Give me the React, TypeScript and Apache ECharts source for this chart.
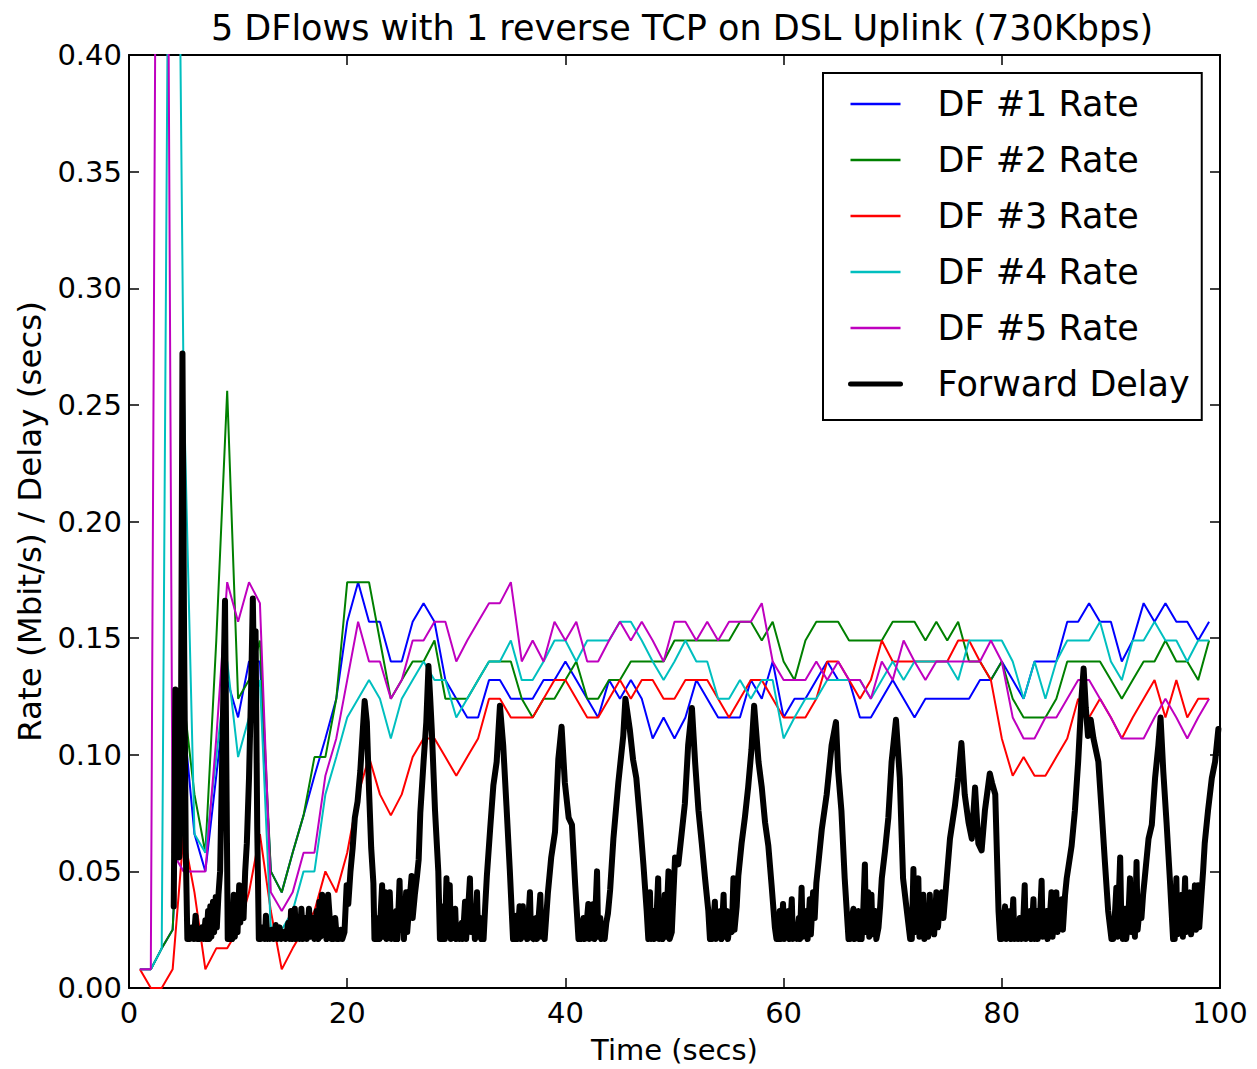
import React, { useEffect, useRef } from "react";
import * as echarts from "echarts";

const FONT = "DejaVu Sans";

const titleText = "5 DFlows with 1 reverse TCP on DSL Uplink (730Kbps)";
const xLabel = "Time (secs)";
const yLabel = "Rate (Mbit/s) / Delay (secs)";
const seriesNames = ["DF #1 Rate", "DF #2 Rate", "DF #3 Rate", "DF #4 Rate", "DF #5 Rate", "Forward Delay"];
const seriesColors = ["#0000ff", "#008000", "#ff0000", "#00bfbf", "#bf00bf", "#000000"];

// sample times for the rate series (one sample per second)
const seconds = Array.from({ length: 99 }, (_, i) => i + 1);

const df1 = [
  0.008, 0.008, 0.017, 0.025, 0.116, 0.066, 0.050, 0.091, 0.132, 0.116,
  0.140, 0.140, 0.050, 0.041, 0.058, 0.074, 0.091, 0.107, 0.124, 0.157,
  0.174, 0.157, 0.157, 0.140, 0.140, 0.157, 0.165, 0.157, 0.132, 0.124,
  0.116, 0.116, 0.132, 0.132, 0.124, 0.124, 0.124, 0.132, 0.132, 0.140,
  0.132, 0.124, 0.116, 0.132, 0.124, 0.132, 0.124, 0.107, 0.116, 0.107,
  0.116, 0.132, 0.124, 0.116, 0.116, 0.116, 0.132, 0.124, 0.140, 0.116,
  0.124, 0.124, 0.132, 0.140, 0.132, 0.132, 0.116, 0.116, 0.124, 0.132,
  0.124, 0.116, 0.124, 0.124, 0.124, 0.124, 0.124, 0.132, 0.132, 0.140,
  0.132, 0.124, 0.140, 0.140, 0.140, 0.157, 0.157, 0.165, 0.157, 0.157,
  0.140, 0.149, 0.165, 0.157, 0.165, 0.157, 0.157, 0.149, 0.157,
];

const df2 = [
  0.008, 0.008, 0.017, 0.025, 0.124, 0.083, 0.058, 0.149, 0.256, 0.124,
  0.132, 0.149, 0.050, 0.041, 0.058, 0.074, 0.099, 0.099, 0.124, 0.174,
  0.174, 0.174, 0.149, 0.124, 0.132, 0.140, 0.140, 0.149, 0.124, 0.124,
  0.124, 0.132, 0.140, 0.140, 0.140, 0.124, 0.116, 0.124, 0.124, 0.132,
  0.140, 0.124, 0.124, 0.132, 0.132, 0.140, 0.140, 0.140, 0.140, 0.149,
  0.149, 0.149, 0.149, 0.149, 0.149, 0.157, 0.157, 0.149, 0.157, 0.140,
  0.132, 0.149, 0.157, 0.157, 0.157, 0.149, 0.149, 0.149, 0.149, 0.157,
  0.157, 0.157, 0.149, 0.157, 0.149, 0.157, 0.140, 0.140, 0.132, 0.140,
  0.124, 0.116, 0.116, 0.116, 0.124, 0.140, 0.140, 0.140, 0.140, 0.132,
  0.124, 0.132, 0.140, 0.140, 0.149, 0.140, 0.140, 0.132, 0.149,
];

const df3 = [
  0.008, 0.000, 0.000, 0.008, 0.066, 0.041, 0.008, 0.017, 0.017, 0.025,
  0.041, 0.066, 0.033, 0.008, 0.017, 0.025, 0.033, 0.050, 0.041, 0.058,
  0.083, 0.099, 0.083, 0.074, 0.083, 0.099, 0.107, 0.107, 0.099, 0.091,
  0.099, 0.107, 0.124, 0.124, 0.116, 0.116, 0.116, 0.124, 0.132, 0.132,
  0.124, 0.116, 0.116, 0.124, 0.132, 0.124, 0.132, 0.132, 0.124, 0.124,
  0.132, 0.132, 0.132, 0.124, 0.116, 0.124, 0.132, 0.132, 0.124, 0.116,
  0.116, 0.116, 0.124, 0.140, 0.140, 0.132, 0.124, 0.132, 0.149, 0.140,
  0.140, 0.140, 0.140, 0.140, 0.140, 0.149, 0.149, 0.140, 0.132, 0.107,
  0.091, 0.099, 0.091, 0.091, 0.099, 0.107, 0.124, 0.116, 0.124, 0.116,
  0.107, 0.116, 0.124, 0.132, 0.116, 0.132, 0.116, 0.124, 0.124,
];

const df4 = [
  0.008, 0.008, 0.017, 0.750, 0.260, 0.066, 0.058, 0.099, 0.140, 0.099,
  0.116, 0.132, 0.025, 0.025, 0.033, 0.050, 0.050, 0.083, 0.099, 0.116,
  0.124, 0.132, 0.124, 0.107, 0.124, 0.132, 0.140, 0.132, 0.132, 0.116,
  0.124, 0.132, 0.140, 0.140, 0.149, 0.132, 0.132, 0.140, 0.149, 0.149,
  0.140, 0.149, 0.149, 0.149, 0.157, 0.157, 0.149, 0.140, 0.132, 0.140,
  0.149, 0.140, 0.140, 0.124, 0.124, 0.132, 0.124, 0.132, 0.132, 0.107,
  0.116, 0.124, 0.124, 0.132, 0.132, 0.132, 0.132, 0.124, 0.132, 0.140,
  0.132, 0.140, 0.140, 0.140, 0.140, 0.132, 0.149, 0.149, 0.149, 0.149,
  0.140, 0.124, 0.140, 0.124, 0.140, 0.149, 0.149, 0.149, 0.157, 0.140,
  0.132, 0.149, 0.149, 0.157, 0.149, 0.149, 0.140, 0.149, 0.149,
];

const df5 = [
  0.008, 0.008, 1.000, 0.058, 0.050, 0.050, 0.050, 0.107, 0.174, 0.157,
  0.174, 0.165, 0.041, 0.033, 0.041, 0.058, 0.058, 0.091, 0.107, 0.132,
  0.157, 0.140, 0.140, 0.124, 0.132, 0.149, 0.149, 0.157, 0.157, 0.140,
  0.149, 0.157, 0.165, 0.165, 0.174, 0.140, 0.149, 0.140, 0.157, 0.149,
  0.157, 0.140, 0.140, 0.149, 0.157, 0.149, 0.157, 0.149, 0.140, 0.157,
  0.157, 0.149, 0.157, 0.149, 0.157, 0.157, 0.157, 0.165, 0.140, 0.132,
  0.132, 0.132, 0.140, 0.132, 0.140, 0.132, 0.132, 0.124, 0.140, 0.132,
  0.149, 0.140, 0.132, 0.140, 0.140, 0.140, 0.140, 0.140, 0.149, 0.140,
  0.116, 0.107, 0.107, 0.116, 0.116, 0.124, 0.132, 0.132, 0.124, 0.116,
  0.107, 0.107, 0.107, 0.116, 0.124, 0.116, 0.107, 0.116, 0.124,
];

// forward delay samples: [time (s), delay (s)]
const forwardDelay = [
  [4.1, 0.035], [4.25, 0.128], [4.4, 0.058], [4.6, 0.056], [4.75, 0.09], [4.9, 0.272], [5.05, 0.15], [5.2, 0.06], [5.35, 0.021],
  [5.6, 0.021], [5.8, 0.026], [5.95, 0.021], [6.1, 0.031], [6.25, 0.021], [6.5, 0.021], [6.7, 0.026], [6.85, 0.021], [7.0, 0.029], [7.1, 0.021], [7.25, 0.033], [7.35, 0.021], [7.45, 0.035], [7.55, 0.022], [7.7, 0.037], [7.8, 0.024], [7.95, 0.039], [8.05, 0.026], [8.2, 0.04], [8.35, 0.05], [8.55, 0.1], [8.8, 0.166], [8.95, 0.08], [9.05, 0.021],
  [9.2, 0.021], [9.35, 0.03], [9.45, 0.021], [9.6, 0.04], [9.7, 0.022], [9.85, 0.035], [9.95, 0.024], [10.1, 0.044], [10.2, 0.028], [10.35, 0.04], [10.5, 0.03], [10.65, 0.05], [10.8, 0.062], [11.0, 0.09], [11.2, 0.13], [11.35, 0.167], [11.5, 0.12], [11.6, 0.153], [11.75, 0.07], [11.9, 0.021],
  [12.1, 0.021], [12.3, 0.026], [12.45, 0.021], [12.55, 0.031], [12.7, 0.021], [12.8, 0.025], [12.9, 0.021], [13.1, 0.025], [13.25, 0.021], [13.45, 0.027], [13.6, 0.021], [13.8, 0.026], [13.95, 0.021], [14.2, 0.024], [14.35, 0.021], [14.6, 0.028], [14.75, 0.021], [14.85, 0.033], [15.0, 0.021], [15.2, 0.034], [15.3, 0.021], [15.5, 0.03], [15.65, 0.021], [15.8, 0.034], [15.95, 0.021], [16.15, 0.03], [16.3, 0.021], [16.5, 0.034], [16.65, 0.022], [16.85, 0.03], [17.0, 0.021], [17.2, 0.033], [17.35, 0.021], [17.45, 0.037], [17.55, 0.022], [17.7, 0.04], [17.8, 0.024], [17.95, 0.036], [18.1, 0.021], [18.25, 0.04], [18.4, 0.03], [18.55, 0.021], [18.75, 0.021], [18.9, 0.03], [19.05, 0.021], [19.25, 0.021], [19.4, 0.025], [19.55, 0.021], [19.75, 0.024],
  [19.95, 0.044], [20.1, 0.036], [20.3, 0.05], [20.5, 0.06], [20.7, 0.073], [20.95, 0.08], [21.2, 0.093], [21.45, 0.112], [21.6, 0.123], [21.8, 0.114], [22.0, 0.085], [22.2, 0.06], [22.4, 0.045], [22.5, 0.021],
  [22.7, 0.021], [22.85, 0.03], [22.95, 0.021], [23.2, 0.044], [23.3, 0.022], [23.5, 0.041], [23.6, 0.021], [23.75, 0.03], [23.9, 0.041], [24.05, 0.021], [24.2, 0.028], [24.35, 0.021], [24.5, 0.033], [24.6, 0.021], [24.8, 0.046], [24.9, 0.025], [25.1, 0.034], [25.2, 0.021], [25.4, 0.041], [25.5, 0.024], [25.7, 0.036], [25.9, 0.048], [26.0, 0.03], [26.2, 0.04], [26.4, 0.048], [26.55, 0.055], [26.7, 0.075], [27.0, 0.097], [27.25, 0.114], [27.45, 0.138], [27.6, 0.125], [27.75, 0.111], [28.05, 0.076], [28.35, 0.05], [28.5, 0.021],
  [28.7, 0.021], [28.85, 0.035], [28.95, 0.021], [29.1, 0.047], [29.2, 0.024], [29.4, 0.044], [29.5, 0.021], [29.7, 0.03], [29.9, 0.034], [30.0, 0.021], [30.15, 0.026], [30.3, 0.021], [30.5, 0.028], [30.6, 0.021], [30.8, 0.037], [30.9, 0.021], [31.1, 0.035], [31.25, 0.047], [31.35, 0.024], [31.6, 0.035], [31.7, 0.021], [31.9, 0.041], [32.0, 0.022], [32.2, 0.03], [32.3, 0.021], [32.5, 0.021], [32.65, 0.035], [32.8, 0.048],
  [33.1, 0.068], [33.4, 0.087], [33.7, 0.097], [34.0, 0.121], [34.3, 0.104], [34.6, 0.078], [34.9, 0.051], [35.2, 0.021],
  [35.35, 0.021], [35.5, 0.031], [35.6, 0.021], [35.8, 0.035], [35.9, 0.021], [36.1, 0.035], [36.2, 0.022], [36.4, 0.03], [36.5, 0.021], [36.75, 0.041], [36.85, 0.022], [37.05, 0.021], [37.3, 0.03], [37.4, 0.021], [37.7, 0.04], [37.8, 0.022], [38.0, 0.031], [38.1, 0.021], [38.4, 0.041], [38.7, 0.056], [39.05, 0.067], [39.35, 0.098], [39.65, 0.112], [39.95, 0.088], [40.3, 0.073], [40.6, 0.07], [40.9, 0.044], [41.2, 0.021],
  [41.4, 0.021], [41.65, 0.03], [41.75, 0.021], [41.95, 0.028], [42.1, 0.036], [42.2, 0.021], [42.4, 0.03], [42.55, 0.036], [42.65, 0.021], [42.9, 0.05], [43.0, 0.022], [43.2, 0.03], [43.3, 0.021], [43.45, 0.026], [43.6, 0.021], [43.75, 0.028], [43.9, 0.032], [44.1, 0.042], [44.4, 0.064], [44.85, 0.088], [45.3, 0.108], [45.5, 0.124], [45.9, 0.111], [46.2, 0.098], [46.5, 0.09], [46.85, 0.071], [47.15, 0.053], [47.45, 0.033], [47.6, 0.021],
  [47.75, 0.041], [47.85, 0.021], [48.05, 0.033], [48.15, 0.021], [48.35, 0.03], [48.5, 0.047], [48.6, 0.021], [48.8, 0.033], [48.9, 0.021], [49.1, 0.04], [49.2, 0.022], [49.45, 0.05], [49.55, 0.021], [49.75, 0.024], [49.9, 0.04], [50.05, 0.056], [50.35, 0.053], [50.65, 0.066], [50.95, 0.079], [51.25, 0.104], [51.6, 0.12], [51.9, 0.096], [52.2, 0.076], [52.5, 0.062], [52.8, 0.047], [53.1, 0.033], [53.25, 0.021],
  [53.45, 0.021], [53.7, 0.037], [53.8, 0.021], [54.0, 0.03], [54.2, 0.033], [54.3, 0.021], [54.5, 0.04], [54.6, 0.022], [54.8, 0.033], [54.9, 0.021], [55.05, 0.027], [55.25, 0.024], [55.4, 0.047], [55.5, 0.025], [55.7, 0.035], [55.85, 0.048], [56.15, 0.062], [56.45, 0.073], [56.75, 0.086], [57.05, 0.102], [57.3, 0.121], [57.7, 0.097], [58.0, 0.086], [58.3, 0.071], [58.6, 0.061], [58.9, 0.044], [59.2, 0.026], [59.35, 0.021],
  [59.5, 0.021], [59.65, 0.033], [59.75, 0.021], [59.95, 0.036], [60.05, 0.021], [60.25, 0.028], [60.45, 0.033], [60.55, 0.021], [60.75, 0.038], [60.85, 0.021], [61.05, 0.027], [61.2, 0.021], [61.4, 0.03], [61.5, 0.021], [61.65, 0.043], [61.75, 0.022], [61.9, 0.03], [62.1, 0.033], [62.2, 0.021], [62.4, 0.038], [62.5, 0.023], [62.7, 0.041], [62.85, 0.03], [63.0, 0.045], [63.2, 0.054], [63.5, 0.068], [63.95, 0.083], [64.4, 0.104], [64.8, 0.114], [65.0, 0.093], [65.3, 0.076], [65.6, 0.047], [65.95, 0.021],
  [66.1, 0.021], [66.25, 0.03], [66.4, 0.034], [66.5, 0.021], [66.7, 0.028], [66.85, 0.033], [66.95, 0.021], [67.15, 0.021], [67.3, 0.033], [67.45, 0.053], [67.55, 0.024], [67.75, 0.041], [67.85, 0.022], [68.05, 0.04], [68.15, 0.023], [68.4, 0.033], [68.5, 0.021], [68.7, 0.026], [68.85, 0.035], [69.0, 0.047], [69.3, 0.059], [69.6, 0.073], [69.9, 0.097], [70.3, 0.115], [70.65, 0.09], [70.95, 0.047], [71.3, 0.033], [71.6, 0.021],
  [71.75, 0.021], [71.9, 0.051], [72.0, 0.024], [72.2, 0.04], [72.35, 0.047], [72.45, 0.022], [72.65, 0.033], [72.8, 0.04], [72.9, 0.021], [73.1, 0.033], [73.25, 0.022], [73.4, 0.04], [73.5, 0.024], [73.7, 0.036], [73.8, 0.023], [74.0, 0.041], [74.15, 0.026], [74.35, 0.038], [74.5, 0.041], [74.65, 0.03], [74.95, 0.047], [75.25, 0.064], [75.7, 0.078], [76.0, 0.09], [76.3, 0.105], [76.6, 0.083], [76.95, 0.071], [77.25, 0.064], [77.55, 0.086], [77.85, 0.062], [78.15, 0.059], [78.45, 0.076], [78.9, 0.092], [79.1, 0.088], [79.4, 0.083], [79.7, 0.033], [79.85, 0.021],
  [80.0, 0.021], [80.15, 0.028], [80.3, 0.035], [80.4, 0.021], [80.6, 0.025], [80.75, 0.033], [80.85, 0.021], [81.05, 0.038], [81.15, 0.021], [81.35, 0.028], [81.5, 0.021], [81.65, 0.03], [81.8, 0.021], [81.95, 0.027], [82.1, 0.044], [82.2, 0.021], [82.4, 0.03], [82.6, 0.033], [82.7, 0.021], [82.9, 0.038], [83.0, 0.021], [83.2, 0.033], [83.3, 0.021], [83.5, 0.03], [83.65, 0.046], [83.75, 0.022], [83.95, 0.028], [84.1, 0.033], [84.2, 0.021], [84.4, 0.03], [84.55, 0.041], [84.65, 0.022], [84.85, 0.032], [85.0, 0.041], [85.1, 0.024], [85.3, 0.035], [85.5, 0.038], [85.6, 0.025], [85.8, 0.04], [85.95, 0.047], [86.4, 0.061], [86.7, 0.076], [87.0, 0.097], [87.3, 0.124], [87.5, 0.137], [87.7, 0.12], [87.9, 0.108], [88.15, 0.115], [88.4, 0.107], [88.85, 0.097], [89.15, 0.076], [89.45, 0.054], [89.75, 0.033], [90.05, 0.021],
  [90.2, 0.021], [90.35, 0.03], [90.5, 0.043], [90.6, 0.022], [90.85, 0.056], [90.95, 0.03], [91.1, 0.021], [91.3, 0.034], [91.4, 0.021], [91.6, 0.03], [91.75, 0.047], [91.85, 0.024], [92.05, 0.035], [92.2, 0.022], [92.35, 0.054], [92.45, 0.025], [92.65, 0.035], [92.8, 0.03], [92.95, 0.04], [93.1, 0.047], [93.45, 0.064], [93.75, 0.07], [94.05, 0.09], [94.35, 0.104], [94.55, 0.116], [94.8, 0.093], [95.1, 0.071], [95.4, 0.047], [95.7, 0.021],
  [95.85, 0.021], [96.0, 0.047], [96.1, 0.023], [96.3, 0.03], [96.5, 0.04], [96.6, 0.022], [96.8, 0.047], [96.9, 0.024], [97.1, 0.035], [97.25, 0.041], [97.35, 0.023], [97.55, 0.032], [97.7, 0.044], [97.8, 0.025], [98.0, 0.044], [98.1, 0.026], [98.3, 0.04], [98.45, 0.05], [98.6, 0.062], [98.9, 0.076], [99.25, 0.09], [99.55, 0.097], [99.85, 0.111],
];

const xTickMin = 0;
const xTickMax = 100;
const xTickStep = 20;
const yTickMin = 0;
const yTickMax = 0.4;
const yTickStep = 0.05;

export default function App() {
  const ref = useRef<HTMLDivElement>(null);

  useEffect(() => {
    if (!ref.current) return;
    const chart = echarts.init(ref.current, undefined, { renderer: "svg" });

    const rateSets = [df1, df2, df3, df4, df5];
    const rateSeries = rateSets.map((vals, k) => ({
      name: seriesNames[k],
      type: "line",
      data: seconds.map((t, i) => [t, vals[i]]),
      symbol: "none",
      showSymbol: false,
      clip: true,
      color: seriesColors[k],
      lineStyle: { color: seriesColors[k], width: 2 },
      emphasis: { disabled: true },
      z: 2 + k,
    }));

    const delaySeries = {
      name: seriesNames[5],
      type: "line",
      data: forwardDelay,
      symbol: "none",
      showSymbol: false,
      clip: true,
      color: seriesColors[5],
      lineStyle: { color: seriesColors[5], width: 6, join: "round", cap: "round" },
      emphasis: { disabled: true },
      z: 10,
    };

    const tickStyle = { show: true, inside: true, length: 10, lineStyle: { color: "#000", width: 1.5 } };
    const lineStyle = { show: true, onZero: false, lineStyle: { color: "#000", width: 2 } };
    const labelStyle = { color: "#000", fontSize: 29, fontFamily: FONT };

    const legendData = seriesNames.map((name, k) => ({
      name,
      itemStyle: { opacity: 0 },
      lineStyle: { color: seriesColors[k], width: k === 5 ? 5 : 2.5, opacity: 1 },
    }));

    chart.setOption({
      animation: false,
      backgroundColor: "#ffffff",
      title: {
        text: titleText,
        left: 677,
        top: 5,
        textAlign: "center",
        textStyle: { fontSize: 35, fontWeight: "normal", fontFamily: FONT, color: "#000" },
      },
      legend: {
        orient: "vertical",
        left: 823,
        top: 73,
        padding: [11, 12, 16, 25],
        itemWidth: 50,
        itemHeight: 4,
        itemGap: 16,
        borderColor: "#000",
        borderWidth: 2,
        backgroundColor: "#fff",
        itemStyle: { opacity: 0 },
        textStyle: { fontSize: 35, fontFamily: FONT, color: "#000", lineHeight: 40, padding: [0, 0, 0, 32] },
        data: legendData,
      },
      grid: { left: 129, right: 37, top: 55, bottom: 79, containLabel: false },
      xAxis: [
        {
          type: "value",
          position: "bottom",
          min: xTickMin,
          max: xTickMax,
          interval: xTickStep,
          name: xLabel,
          nameLocation: "middle",
          nameGap: 47,
          nameTextStyle: { fontSize: 29, fontFamily: FONT, color: "#000" },
          axisLine: lineStyle,
          axisTick: tickStyle,
          axisLabel: { ...labelStyle, margin: 10 },
          splitLine: { show: false },
        },
        {
          type: "value",
          position: "top",
          min: xTickMin,
          max: xTickMax,
          interval: xTickStep,
          axisLine: lineStyle,
          axisTick: tickStyle,
          axisLabel: { show: false },
          splitLine: { show: false },
        },
      ],
      yAxis: [
        {
          type: "value",
          position: "left",
          min: yTickMin,
          max: yTickMax,
          interval: yTickStep,
          name: yLabel,
          nameLocation: "middle",
          nameGap: 82,
          nameTextStyle: { fontSize: 32.5, fontFamily: FONT, color: "#000" },
          axisLine: lineStyle,
          axisTick: tickStyle,
          axisLabel: { ...labelStyle, margin: 7, formatter: (v: number) => v.toFixed(2) },
          splitLine: { show: false },
        },
        {
          type: "value",
          position: "right",
          min: yTickMin,
          max: yTickMax,
          interval: yTickStep,
          axisLine: lineStyle,
          axisTick: tickStyle,
          axisLabel: { show: false },
          splitLine: { show: false },
        },
      ],
      series: [...rateSeries, delaySeries],
    });

    return () => chart.dispose();
  }, []);

  return (
    <div
      ref={ref}
      style={{ position: "absolute", left: 0, top: 0, width: 1257, height: 1069, background: "#fff" }}
    />
  );
}
